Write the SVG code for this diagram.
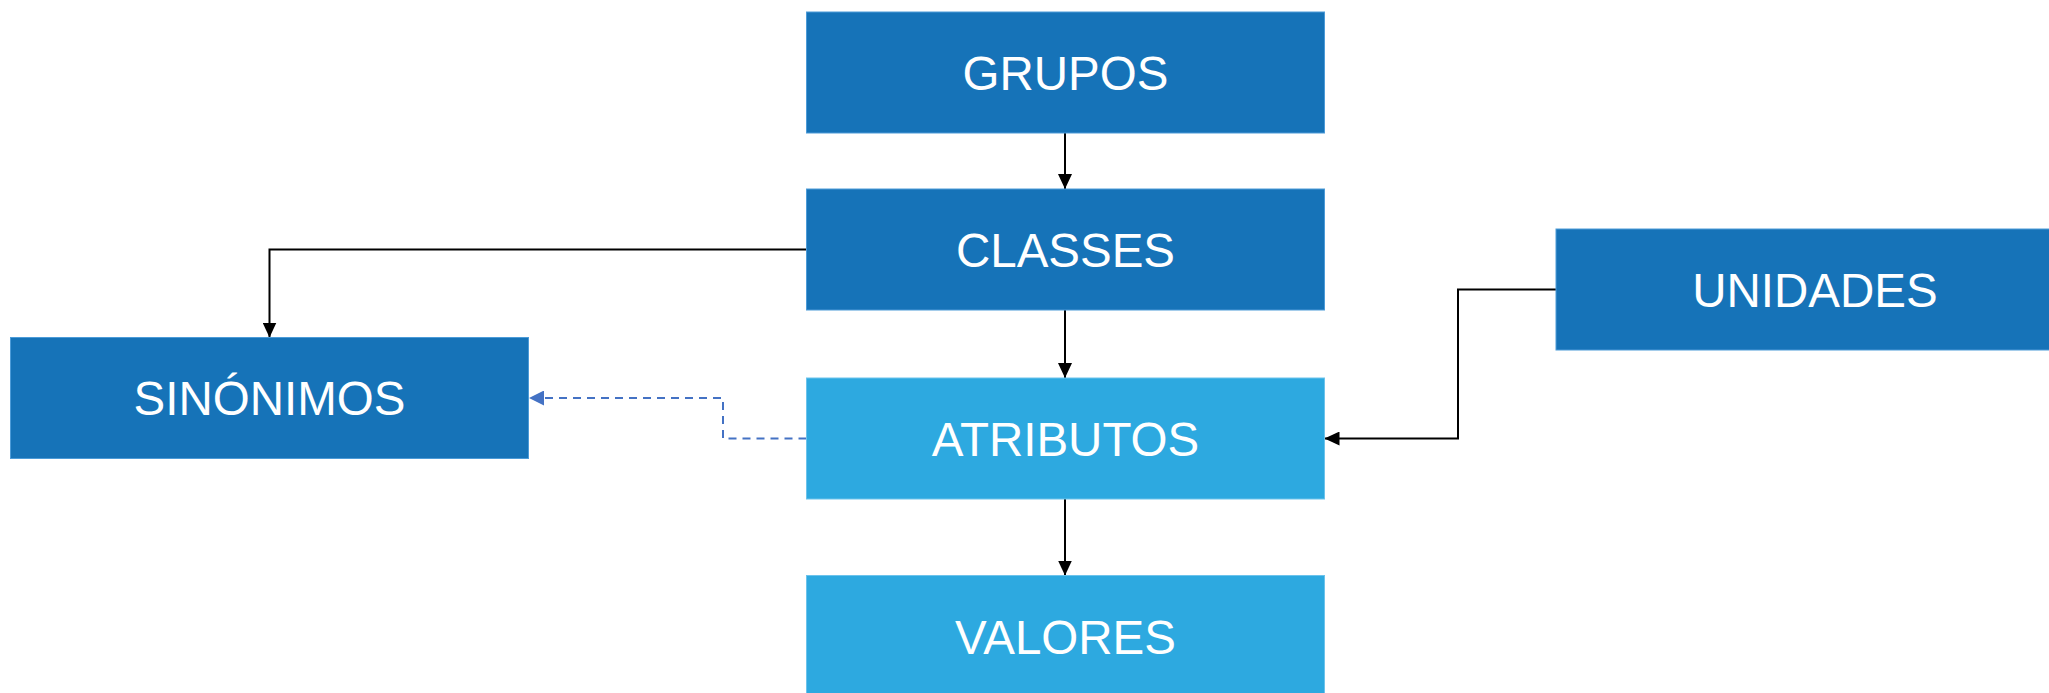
<svg xmlns="http://www.w3.org/2000/svg" width="2049" height="693" viewBox="0 0 2049 693">
  <style>
    .dark { fill: #1673B8; stroke: #4C9BD8; stroke-width: 1; }
    .light { fill: #2DA9E0; stroke: #6CC3EC; stroke-width: 1; }
    .label { font-family: "Liberation Sans", Arial, sans-serif; font-size: 47.5px; fill: #FFFFFF; text-anchor: middle; }
    .conn { fill: none; stroke: #000000; stroke-width: 2; }
    .dash { fill: none; stroke: #4472C4; stroke-width: 2; stroke-dasharray: 8 6; }
  </style>
  <defs>
    <marker id="arrow" viewBox="0 0 15 14" refX="15" refY="7" markerWidth="15" markerHeight="14" markerUnits="userSpaceOnUse" orient="auto">
      <path d="M0,0 L15,7 L0,14 Z" fill="#000000"/>
    </marker>
    <marker id="arrowBlue" viewBox="0 0 15 15" refX="15" refY="7.5" markerWidth="15" markerHeight="15" markerUnits="userSpaceOnUse" orient="auto">
      <path d="M0,0 L15,7.5 L0,15 Z" fill="#4472C4"/>
    </marker>
  </defs>
  <rect width="2049" height="693" fill="#FFFFFF"/>
  <g id="connectors">
    <path class="conn" d="M1065 133 V189" marker-end="url(#arrow)"/>
    <path class="conn" d="M1065 310 V378" marker-end="url(#arrow)"/>
    <path class="conn" d="M1065 499 V575.5" marker-end="url(#arrow)"/>
    <path class="conn" d="M806.5 249.5 H269.5 V337.5" marker-end="url(#arrow)"/>
    <path class="conn" d="M1556 289.5 H1458 V438.5 H1324.5" marker-end="url(#arrow)"/>
    <path class="dash" d="M806.5 438.5 H723 V398 H529" marker-end="url(#arrowBlue)"/>
  </g>
  <g id="grupos">
    <rect class="dark" x="806.5" y="12" width="518" height="121"/>
    <text class="label" x="1065.5" y="90">GRUPOS</text>
  </g>
  <g id="classes">
    <rect class="dark" x="806.5" y="189" width="518" height="121"/>
    <text class="label" x="1065.5" y="267">CLASSES</text>
  </g>
  <g id="sinonimos">
    <rect class="dark" x="10.5" y="337.5" width="518" height="121"/>
    <text class="label" x="269.5" y="415">SINÓNIMOS</text>
  </g>
  <g id="atributos">
    <rect class="light" x="806.5" y="378" width="518" height="121"/>
    <text class="label" x="1065.5" y="456">ATRIBUTOS</text>
  </g>
  <g id="unidades">
    <rect class="dark" x="1556" y="229" width="518" height="121"/>
    <text class="label" x="1815" y="307">UNIDADES</text>
  </g>
  <g id="valores">
    <rect class="light" x="806.5" y="575.5" width="518" height="121"/>
    <text class="label" x="1065.5" y="654">VALORES</text>
  </g>
</svg>
